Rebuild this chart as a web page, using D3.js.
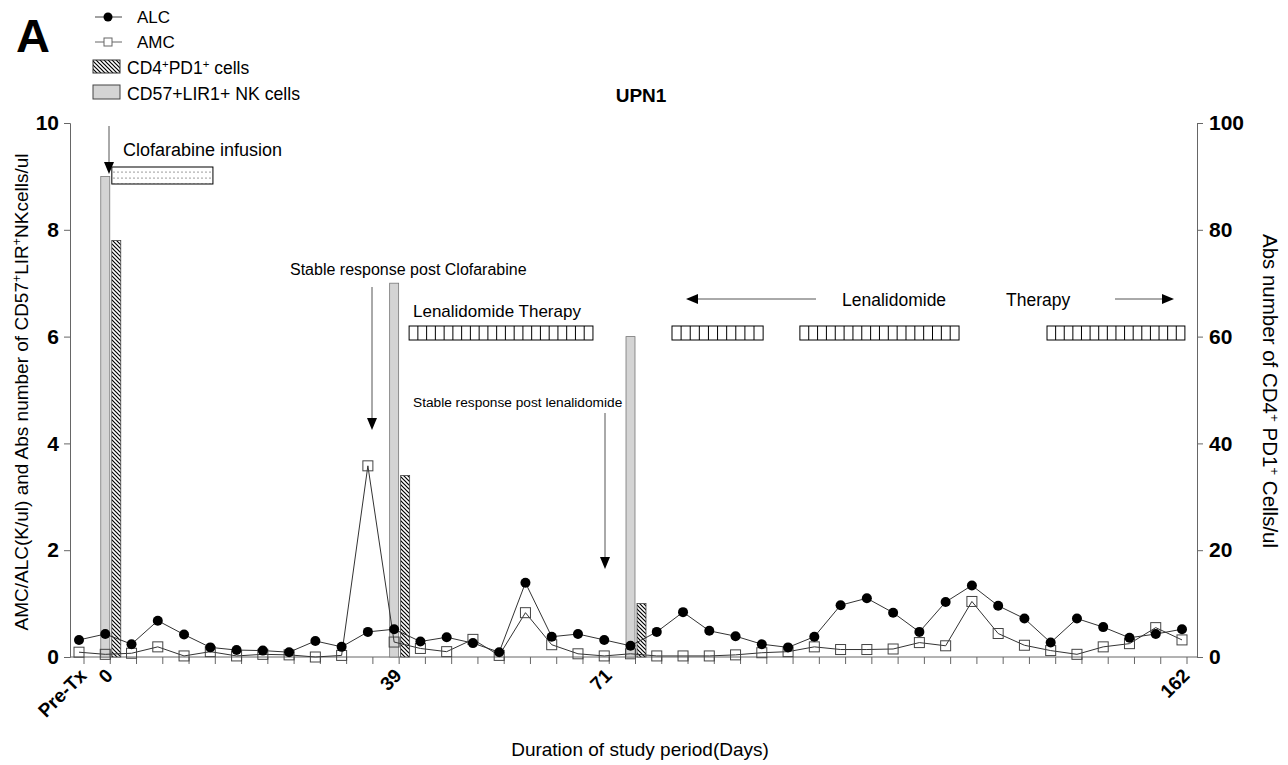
<!DOCTYPE html>
<html>
<head>
<meta charset="utf-8">
<script src="https://cdn.jsdelivr.net/npm/d3@7"></script>
<style>
  body { margin: 0; background: #fff; }
  svg { font-family: "Liberation Sans", Arial, sans-serif; }
</style>
</head>
<body>
<div id="chart"></div>
<script>
// visits are evenly spaced sampling points (index 0..42)
var visitLabels = [[0, "Pre-Tx"], [1, "0"], [12, "39"], [20, "71"], [42, "162"]];

var alc = [0.32, 0.43, 0.24, 0.68, 0.42, 0.18, 0.13, 0.12, 0.09, 0.30,
           0.19, 0.47, 0.52, 0.29, 0.37, 0.26, 0.09, 1.39, 0.38, 0.43,
           0.32, 0.21, 0.47, 0.84, 0.49, 0.39, 0.24, 0.18, 0.38, 0.97,
           1.10, 0.83, 0.47, 1.03, 1.34, 0.96, 0.72, 0.27, 0.72, 0.56,
           0.36, 0.43, 0.52];

var amc = [0.09, 0.05, 0.07, 0.19, 0.02, 0.10, 0.02, 0.05, 0.04, 0.00,
           0.03, 3.58, 0.28, 0.16, 0.10, 0.33, 0.03, 0.83, 0.23, 0.06,
           0.02, 0.06, 0.02, 0.02, 0.02, 0.04, 0.08, 0.10, 0.19, 0.14,
           0.14, 0.15, 0.27, 0.21, 1.04, 0.44, 0.22, 0.12, 0.05, 0.19,
           0.25, 0.55, 0.32];

// bars at three time points
var barVisits = [1, 12, 21];
var nkValues = [9.0, 7.0, 6.0];      // CD57+LIR1+ NK cells, left axis
var pd1Values = [78, 34, 10];        // CD4+PD1+ cells, right axis

// treatment periods in visit units
var clofarabine = [1.25, 5.1];
var lenalidomide = [[12.57, 19.57], [22.58, 26.05], [27.45, 33.51], [36.86, 42.11]];

var leftTicks = [0, 2, 4, 6, 8, 10];
var rightTicks = [0, 20, 40, 60, 80, 100];

var W = 1288, H = 765;
var svg = d3.select("#chart").append("svg")
    .attr("width", W).attr("height", H);

var x = d3.scaleLinear().domain([0, 42]).range([79, 1182]);
var yL = d3.scaleLinear().domain([0, 10]).range([657, 123]);
var yR = d3.scaleLinear().domain([0, 100]).range([657, 123]);
var axisLeftX = 70, axisRightX = 1197;

var defs = svg.append("defs");
var hatch = defs.append("pattern").attr("id", "hatch")
    .attr("patternUnits", "userSpaceOnUse").attr("width", 4).attr("height", 4);
hatch.append("rect").attr("width", 4).attr("height", 4).attr("fill", "#fff");
hatch.append("path").attr("d", "M-1,-1L5,5M-1,3L1,5M3,-1L5,1")
    .attr("stroke", "#000").attr("stroke-width", 1.2);

var dots = defs.append("pattern").attr("id", "dots")
    .attr("patternUnits", "userSpaceOnUse").attr("width", 4).attr("height", 6)
    .attr("x", 0).attr("y", 1);
dots.append("rect").attr("width", 4).attr("height", 6).attr("fill", "#fff");
dots.append("circle").attr("cx", 2).attr("cy", 3).attr("r", 0.6).attr("fill", "#222");

// ---- axes ----
var gl = svg.append("g").attr("transform", "translate(" + axisLeftX + ",0)")
    .call(d3.axisLeft(yL).tickValues(leftTicks).tickSize(6).tickPadding(5).tickFormat(d3.format("d")));
var gr = svg.append("g").attr("transform", "translate(" + axisRightX + ",0)")
    .call(d3.axisRight(yR).tickValues(rightTicks).tickSize(6).tickPadding(6).tickFormat(d3.format("d")));
[gl, gr].forEach(function (g) {
    g.select(".domain").attr("stroke", "#666");
    g.selectAll(".tick line").attr("stroke", "#666");
    g.selectAll(".tick text").attr("font-size", 21).attr("font-weight", "bold")
        .attr("fill", "#000").attr("font-family", "Liberation Sans, Arial, sans-serif");
});

// x axis
var gx = svg.append("g");
gx.append("line").attr("x1", axisLeftX).attr("x2", axisRightX)
    .attr("y1", yL(0)).attr("y2", yL(0)).attr("stroke", "#666");
gx.selectAll(".xt").data(d3.range(alc.length)).enter().append("line")
    .attr("x1", function (d) { return x(d) + 5; })
    .attr("x2", function (d) { return x(d) + 5; })
    .attr("y1", yL(0)).attr("y2", yL(0) + 7).attr("stroke", "#666");
gx.selectAll(".xl").data(visitLabels).enter().append("text")
    .attr("transform", function (d) { return "translate(" + (x(d[0]) + 4) + "," + (yL(0) + 15) + ") rotate(-45)"; })
    .attr("text-anchor", "end").attr("dy", "0.35em")
    .attr("font-size", 19).attr("font-weight", "bold")
    .text(function (d) { return d[1]; });

// ---- bars ----
svg.selectAll(".nk").data(barVisits).enter().append("rect")
    .attr("x", function (d) { return x(d) - 4.5; })
    .attr("width", 9)
    .attr("y", function (d, i) { return yL(nkValues[i]); })
    .attr("height", function (d, i) { return yL(0) - yL(nkValues[i]); })
    .attr("fill", "#d4d4d4").attr("stroke", "#777").attr("stroke-width", 0.8);

svg.selectAll(".pd1").data(barVisits).enter().append("rect")
    .attr("x", function (d) { return x(d) + 6.5; })
    .attr("width", 9)
    .attr("y", function (d, i) { return yR(pd1Values[i]); })
    .attr("height", function (d, i) { return yR(0) - yR(pd1Values[i]); })
    .attr("fill", "url(#hatch)").attr("stroke", "#444").attr("stroke-width", 0.8);

// ---- lines ----
var line = d3.line().x(function (d, i) { return x(i); });
svg.append("path").datum(amc)
    .attr("d", line.y(function (d) { return yL(d); }))
    .attr("fill", "none").attr("stroke", "#333").attr("stroke-width", 1);
svg.append("path").datum(alc)
    .attr("d", line.y(function (d) { return yL(d); }))
    .attr("fill", "none").attr("stroke", "#333").attr("stroke-width", 1);

svg.selectAll(".amc").data(amc).enter().append("rect")
    .attr("x", function (d, i) { return x(i) - 5; })
    .attr("y", function (d) { return yL(d) - 5; })
    .attr("width", 10).attr("height", 10)
    .attr("fill", "none").attr("stroke", "#444").attr("stroke-width", 1);
svg.selectAll(".alc").data(alc).enter().append("circle")
    .attr("cx", function (d, i) { return x(i); })
    .attr("cy", function (d) { return yL(d); })
    .attr("r", 5).attr("fill", "#000");

// ---- annotations ----
function arrowDown(ax, y1, y2) {
    svg.append("line").attr("x1", ax).attr("x2", ax).attr("y1", y1).attr("y2", y2 - 10)
        .attr("stroke", "#555").attr("stroke-width", 1);
    svg.append("path").attr("d", "M" + (ax - 5) + "," + (y2 - 12) + "L" + (ax + 5) + "," + (y2 - 12) + "L" + ax + "," + y2 + "Z")
        .attr("fill", "#000");
}
function arrowH(x1, x2, ay) {
    var dir = x2 > x1 ? 1 : -1;
    svg.append("line").attr("x1", x1).attr("x2", x2 - dir * 10).attr("y1", ay).attr("y2", ay)
        .attr("stroke", "#555").attr("stroke-width", 1);
    svg.append("path").attr("d", "M" + (x2 - dir * 12) + "," + (ay - 5) + "L" + (x2 - dir * 12) + "," + (ay + 5) + "L" + x2 + "," + ay + "Z")
        .attr("fill", "#000");
}
function label(tx, ty, txt, size, anchor) {
    return svg.append("text").attr("x", tx).attr("y", ty).attr("font-size", size)
        .attr("text-anchor", anchor || "start").text(txt);
}

// clofarabine
arrowDown(109, 126, 174);
svg.append("rect").attr("x", x(clofarabine[0])).attr("y", 167)
    .attr("width", x(clofarabine[1]) - x(clofarabine[0])).attr("height", 17)
    .attr("fill", "url(#dots)").attr("stroke", "#000").attr("stroke-width", 1);
label(123, 156, "Clofarabine infusion", 18);

label(290, 275, "Stable response post Clofarabine", 16);
arrowDown(372, 287, 430);

label(413, 317, "Lenalidomide Therapy", 17);
label(413, 407, "Stable response post lenalidomide", 13.7);
arrowDown(605, 413, 569);

// lenalidomide boxes with vertical bars
lenalidomide.forEach(function (p) {
    var x0 = x(p[0]), x1 = x(p[1]);
    var n = Math.round((x1 - x0) / 8.8);
    var step = (x1 - x0) / n;
    var g = svg.append("g");
    g.append("rect").attr("x", x0).attr("y", 326).attr("width", x1 - x0).attr("height", 14)
        .attr("fill", "#fff").attr("stroke", "#000").attr("stroke-width", 1);
    g.selectAll("line").data(d3.range(1, n)).enter().append("line")
        .attr("x1", function (k) { return x0 + k * step; })
        .attr("x2", function (k) { return x0 + k * step; })
        .attr("y1", 326).attr("y2", 340).attr("stroke", "#000").attr("stroke-width", 1);
});

arrowH(816, 686, 299);
label(842, 306, "Lenalidomide", 17.5);
label(1006, 306, "Therapy", 17.5);
arrowH(1115, 1174, 299);

// ---- titles ----
svg.append("text").attr("x", 641).attr("y", 102).attr("text-anchor", "middle")
    .attr("font-size", 19).attr("font-weight", "bold").text("UPN1");
svg.append("text").attr("x", 16).attr("y", 52).attr("font-size", 47)
    .attr("font-weight", "bold").text("A");

svg.append("text").attr("x", 640).attr("y", 756).attr("text-anchor", "middle")
    .attr("font-size", 19).text("Duration of study period(Days)");

function supText(sel, parts) {
    parts.forEach(function (p) {
        var t = sel.append("tspan").text(p[0]);
        if (p[1]) t.attr("baseline-shift", "super").attr("font-size", "65%");
    });
}

var lt = svg.append("text").attr("transform", "translate(28,392) rotate(-90)")
    .attr("text-anchor", "middle").attr("font-size", 19);
supText(lt, [["AMC/ALC(K/ul) and Abs number of CD57"], ["+", 1], ["LIR"], ["+", 1], ["NKcells/ul"]]);

var rt = svg.append("text").attr("transform", "translate(1263,391) rotate(90)")
    .attr("text-anchor", "middle").attr("font-size", 20.5);
supText(rt, [["Abs number of CD4"], ["+", 1], [" PD1"], ["+", 1], [" Cells/ul"]]);

// ---- legend ----
var lg = svg.append("g");
lg.append("line").attr("x1", 95).attr("x2", 122).attr("y1", 17).attr("y2", 17).attr("stroke", "#444");
lg.append("circle").attr("cx", 108).attr("cy", 17).attr("r", 4.5).attr("fill", "#000");
label(137, 23, "ALC", 17);
lg.append("line").attr("x1", 95).attr("x2", 122).attr("y1", 42).attr("y2", 42).attr("stroke", "#666");
lg.append("rect").attr("x", 104).attr("y", 38).attr("width", 8).attr("height", 8)
    .attr("fill", "#fff").attr("stroke", "#666");
label(137, 48, "AMC", 17);
lg.append("rect").attr("x", 93).attr("y", 60).attr("width", 27).attr("height", 13)
    .attr("fill", "url(#hatch)").attr("stroke", "#333");
var l3 = label(127, 74, "", 17.5);
supText(l3, [["CD4"], ["+", 1], ["PD1"], ["+", 1], [" cells"]]);
lg.append("rect").attr("x", 93).attr("y", 85).attr("width", 27).attr("height", 14)
    .attr("fill", "#d4d4d4").attr("stroke", "#444");
label(127, 100, "CD57+LIR1+ NK cells", 17.7);
</script>
</body>
</html>
